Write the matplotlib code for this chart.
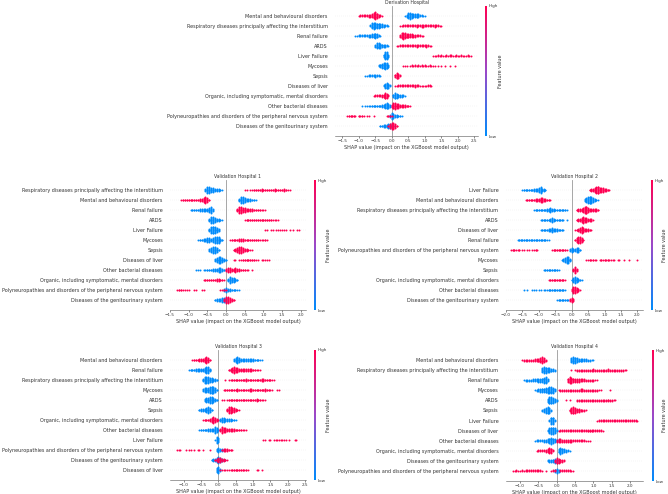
import numpy as np
import matplotlib
matplotlib.use("Agg")
import matplotlib.pyplot as plt
from matplotlib.colors import LinearSegmentedColormap, Normalize
from matplotlib.cm import ScalarMappable

# ─── Data ──────────────────────────────────────────────────────────
# Each row: list of (start SHAP value, counts per 0.05-wide bin)
STEP = 0.05

MENTAL = "Mental and behavioural disorders"
RESP = "Respiratory diseases principally affecting the interstitium"
RENAL = "Renal failure"
ARDS = "ARDS"
LIVERF = "Liver Failure"
MYCO = "Mycoses"
SEPSIS = "Sepsis"
LIVERD = "Diseases of liver"
ORGANIC = "Organic, including symptomatic, mental disorders"
BACT = "Other bacterial diseases"
POLY = "Polyneuropathies and disorders of the peripheral nervous system"
GENITO = "Diseases of the genitourinary system"

# Derivation Hospital
deriv_features = [MENTAL, RESP, RENAL, ARDS, LIVERF, MYCO, SEPSIS, LIVERD,
                  ORGANIC, BACT, POLY, GENITO]
deriv_low = [
    [(0.40, [1, 3, 7, 8, 6, 4, 4, 5, 4, 2, 2, 1, 1])],
    [(-0.65, [2, 7, 8, 7, 6, 6, 5, 4, 3, 2, 2, 1])],
    [(-1.10, [1, 1, 2, 2, 2, 2, 2, 2, 3, 3, 4, 5, 6, 5, 2, 1])],
    [(-0.50, [3, 7, 7, 6, 4, 3, 3, 2, 1])],
    [(-0.25, [4, 9, 9, 3])],
    [(-0.40, [2, 4, 6, 7, 8, 7, 3])],
    [(-0.80, [1, 1, 2, 2, 2, 2, 3, 2, 2, 1])],
    [(-0.25, [2, 5, 7, 6, 2])],
    [(0.05, [4, 7, 5, 4, 3, 3, 2, 1])],
    [(-0.90, [1, 0, 1, 1, 1, 1, 2, 2, 2, 2, 2, 2, 3, 3, 5, 7, 5, 3])],
    [(-0.05, [3, 7, 5, 3, 3, 2, 2, 1])],
    [(-0.35, [2, 2, 3, 3, 4, 5, 5, 4, 2])],
]
deriv_high = [
    [(-1.00, [1, 2, 2, 2, 2, 2, 3, 3, 4, 7, 9, 6, 3, 2, 1])],
    [(0.25, [1, 1, 2, 2, 2, 2, 2, 2, 2, 2, 3, 2, 2, 3, 3, 2, 2, 2, 2, 2, 2, 3, 2, 2, 1, 1])],
    [(0.25, [3, 7, 8, 7, 5, 5, 4, 4, 3, 3, 2, 2, 2, 1, 1])],
    [(0.15, [1, 1, 2, 2, 2, 2, 2, 2, 2, 2, 2, 2, 3, 2, 2, 2, 2, 2, 3, 2, 1, 1])],
    [(1.25, [1, 1, 1, 2, 1, 2, 1, 1, 2, 1, 2, 2, 1, 1, 2, 1, 1, 2, 1, 1, 1, 2, 1, 1])],
    [(0.35, [1, 1, 1, 0, 1, 2, 1, 2, 1, 2, 1, 2, 1, 2, 1, 1, 2, 1, 1, 1, 0, 1, 0, 1, 0, 1, 0, 0, 1, 0, 0, 1])],
    [(0.10, [4, 7, 5, 2])],
    [(0.10, [1, 1, 2, 2, 2, 2, 2, 2, 2, 2, 2, 2, 3, 2, 2, 1, 1, 1, 1, 1, 2, 2, 1])],
    [(-0.55, [1, 2, 2, 2, 2, 3, 4, 7, 5, 2])],
    [(0.00, [3, 7, 8, 6, 5, 4, 3, 3, 3, 2, 2, 1])],
    [(-1.35, [1, 2, 2, 2, 2, 1, 0, 2, 1, 2, 1, 0, 1, 1, 0, 0, 1]), (-0.15, [1, 2, 2, 1])],
    [(-0.10, [2, 5, 8, 7, 5, 2])],
]

# Validation Hospital 1
vh1_features = [RESP, MENTAL, RENAL, ARDS, LIVERF, MYCO, SEPSIS, LIVERD,
                BACT, ORGANIC, POLY, GENITO]
vh1_low = [
    [(-0.55, [3, 8, 7, 6, 5, 4, 3, 3, 2, 1])],
    [(0.35, [4, 8, 7, 5, 4, 3, 3, 2, 2, 1])],
    [(-0.95, [1, 2, 2, 2, 2, 3, 3, 3, 4, 4, 6, 7, 3])],
    [(-0.45, [4, 8, 7, 5, 4, 3, 2, 1])],
    [(-0.45, [4, 7, 9, 8, 6, 3])],
    [(-0.75, [1, 2, 2, 3, 4, 6, 5, 4, 5, 7, 8, 7, 4, 2])],
    [(-0.45, [3, 5, 7, 8, 5, 2])],
    [(-0.30, [3, 6, 8, 8, 6, 4, 2])],
    [(-0.80, [1, 1, 1, 0, 1, 1, 2, 2, 2, 3, 3, 4, 6, 5, 3, 2])],
    [(0.05, [4, 7, 6, 5, 4, 2])],
    [(-0.05, [3, 6, 4, 3, 2, 2, 2, 1, 1])],
    [(-0.30, [2, 3, 3, 4, 5, 6, 5])],
]
vh1_high = [
    [(0.50, [1, 1, 0, 1, 1, 2, 2, 2, 2, 3, 2, 2, 2, 2, 2, 2, 3, 2, 2, 2, 2, 3, 2, 1, 1])],
    [(-1.20, [1, 2, 2, 2, 2, 2, 2, 2, 2, 2, 3, 3, 5, 7, 5, 2])],
    [(0.30, [4, 8, 7, 6, 5, 4, 4, 3, 3, 2, 2, 2, 2, 1, 1, 1])],
    [(0.50, [1, 2, 2, 2, 2, 2, 2, 2, 2, 2, 2, 2, 2, 2, 2, 1, 1, 1, 1])],
    [(1.05, [1, 1, 0, 1, 1, 0, 1, 1, 1, 1, 1, 1, 0, 1, 0, 1, 0, 1, 1])],
    [(0.10, [1, 2, 2, 2, 2, 3, 3, 3, 2, 2, 2, 2, 2, 2, 2, 2, 1, 1, 1, 2, 1])],
    [(0.20, [2, 4, 6, 8, 7, 5, 4, 3, 2, 1, 1])],
    [(0.20, [1, 1, 0, 1, 1, 2, 2, 2, 2, 2, 2, 2, 1, 1, 0, 1, 1, 1, 1, 1])],
    [(0.00, [3, 5, 5, 4, 4, 5, 3, 3, 2, 2, 2, 1, 1, 0, 1])],
    [(-0.60, [1, 2, 2, 2, 2, 2, 2, 3, 3, 2, 2, 1])],
    [(-1.30, [1, 2, 2, 1, 1, 1, 1, 0, 0, 1, 1, 0, 0, 1, 1]), (-0.15, [1, 1, 2, 1])],
    [(-0.05, [3, 7, 7, 5, 4, 2])],
]

# Validation Hospital 2
vh2_features = [LIVERF, MENTAL, RESP, ARDS, LIVERD, RENAL, POLY, MYCO,
                SEPSIS, ORGANIC, BACT, GENITO]
vh2_low = [
    [(-1.50, [1, 2, 2, 2, 2, 2, 2, 3, 3, 4, 5, 7, 4, 3, 2])],
    [(0.40, [3, 5, 7, 9, 7, 5, 3, 2, 1])],
    [(-1.15, [1, 2, 2, 2, 2, 2, 2, 2, 3, 4, 6, 4, 3, 2, 2, 2, 2, 2, 2, 2, 1])],
    [(-0.95, [1, 2, 2, 2, 2, 2, 3, 5, 3, 2, 2, 2, 2, 2, 1, 0, 1])],
    [(-0.95, [1, 2, 2, 2, 2, 3, 4, 6, 4, 3, 3, 2, 2, 2, 1])],
    [(-1.65, [1, 2, 2, 2, 2, 2, 2, 2, 2, 2, 2, 2, 2, 2, 2, 2, 2, 2, 1, 1])],
    [(-0.05, [3, 6, 4, 3, 5, 6, 2])],
    [(-0.30, [1, 3, 5, 7, 8, 4])],
    [(-0.85, [1, 2, 2, 2, 2, 2, 2, 2, 2, 1])],
    [(0.00, [2, 5, 8, 6, 4, 2, 1])],
    [(-1.45, [1, 0, 1, 0, 0, 1, 1, 1, 0, 1, 1, 0, 1, 1, 1, 2, 2, 2, 2, 2, 2, 2, 2, 2, 2, 1])],
    [(-0.45, [1, 2, 2, 2, 2, 2, 2, 1])],
]
vh2_high = [
    [(0.55, [2, 3, 4, 5, 7, 9, 6, 5, 5, 4, 3, 2, 1])],
    [(-1.40, [1, 2, 2, 2, 2, 2, 3, 3, 4, 6, 5, 3, 3, 2, 2, 1])],
    [(0.15, [2, 3, 3, 4, 5, 7, 9, 6, 4, 4, 4, 3, 3, 2])],
    [(0.15, [2, 3, 4, 6, 8, 6, 5, 4, 4, 3, 1])],
    [(0.10, [1, 2, 4, 6, 8, 6, 4, 4, 3, 2, 1])],
    [(0.10, [2, 5, 7, 8, 5, 2])],
    [(-1.85, [1, 2, 2, 1, 1, 2, 0, 1, 1, 0, 1, 1, 0, 1, 1, 2, 1]),
     (-0.60, [1, 2, 2, 2, 2, 2, 2, 2, 2, 1])],
    [(0.45, [1, 1, 2, 1, 2, 1, 1, 0, 1, 2, 1, 2, 1, 2, 1, 1, 1, 1, 0, 1, 1, 0, 0, 1, 0, 0, 1, 0, 0, 0, 0, 1])],
    [(0.05, [4, 8, 3])],
    [(-0.70, [1, 2, 2, 2, 2, 2, 2, 2, 2, 2, 1])],
    [(0.00, [3, 7, 8, 5, 3, 1])],
    [(-0.05, [3, 6, 3])],
]

# Validation Hospital 3
vh3_features = [MENTAL, RENAL, RESP, MYCO, ARDS, SEPSIS, ORGANIC, BACT,
                LIVERF, POLY, GENITO, LIVERD]
vh3_low = [
    [(0.45, [3, 6, 8, 6, 4, 3, 3, 3, 3, 3, 4, 3, 2, 2, 2, 1, 1])],
    [(-0.85, [1, 2, 2, 2, 3, 3, 3, 4, 4, 5, 7, 8, 4])],
    [(-0.45, [4, 7, 8, 7, 6, 5, 4, 3, 2])],
    [(-0.45, [3, 5, 6, 6, 7, 9, 8, 5, 2])],
    [(-0.40, [3, 6, 6, 7, 8, 6, 4, 2])],
    [(-0.55, [2, 3, 3, 4, 6, 8, 5, 2])],
    [(0.05, [4, 6, 5, 3, 3, 3, 3, 2, 2, 1])],
    [(-0.55, [1, 2, 2, 2, 2, 3, 3, 3, 4, 7, 5, 2])],
    [(-0.10, [1, 7, 5])],
    [(-0.05, [3, 6, 4, 3, 2])],
    [(-0.20, [2, 3, 4, 6, 7, 6, 4, 2, 1])],
    [(-0.05, [5, 8, 3])],
]
vh3_high = [
    [(-0.75, [1, 2, 2, 2, 3, 3, 4, 6, 8, 6, 2])],
    [(0.30, [2, 4, 6, 8, 6, 5, 4, 4, 4, 3, 3, 3, 3, 4, 2, 2, 1, 1, 1])],
    [(0.20, [1, 0, 1, 1, 2, 2, 2, 2, 2, 2, 2, 2, 3, 2, 2, 2, 2, 2, 2, 2, 2, 3, 3, 2, 2, 2, 2, 1, 1])],
    [(0.15, [1, 2, 2, 2, 2, 2, 2, 2, 3, 2, 2, 2, 2, 2, 2, 3, 3, 2, 2, 2, 2, 2, 2, 2, 3, 2, 2, 1, 1, 0, 0, 1, 1])],
    [(0.10, [1, 1, 0, 1, 2, 2, 2, 2, 2, 2, 2, 2, 2, 2, 2, 2, 2, 2, 2, 2, 3, 2, 2, 1, 1, 1])],
    [(0.25, [4, 8, 7, 6, 5, 4, 2, 1])],
    [(-0.45, [1, 2, 2, 2, 3, 5, 8, 6, 3, 1])],
    [(0.05, [4, 7, 6, 5, 4, 3, 3, 3, 3, 2, 2, 2, 2, 1, 1, 1])],
    [(1.30, [1, 1, 0, 1, 1, 0, 1, 1, 1, 1, 1, 1, 1, 1, 0, 1, 0, 0, 1, 1])],
    [(-1.20, [1, 1, 1, 0, 0, 1, 0, 1, 1, 0, 1, 0, 1, 1, 0, 1, 0, 0, 0, 1]),
     (0.10, [2, 3, 3, 3, 2, 2, 1])],
    [(-0.10, [2, 4, 6, 6, 4, 3, 2, 1])],
    [(0.05, [1, 1, 1, 1, 1, 1, 1, 2, 2, 2, 2, 2, 2, 2, 1, 2, 1, 0, 0, 0, 0, 1, 1, 0, 1])],
]

# Validation Hospital 4
vh4_features = [MENTAL, RESP, RENAL, MYCO, ARDS, SEPSIS, LIVERF, LIVERD,
                BACT, ORGANIC, GENITO, POLY]
vh4_low = [
    [(0.40, [5, 8, 7, 5, 4, 4, 3, 3, 3, 2, 2, 1, 1])],
    [(-0.40, [5, 8, 7, 6, 5, 4, 3, 2])],
    [(-0.90, [1, 2, 2, 2, 2, 3, 3, 3, 4, 4, 5, 7, 8, 3])],
    [(-0.60, [1, 2, 3, 4, 5, 5, 6, 7, 8, 8, 7, 3])],
    [(-0.25, [4, 8, 8, 6, 4, 2])],
    [(-0.40, [2, 4, 6, 8, 6, 2])],
    [(-0.20, [2, 8, 8, 2])],
    [(-0.25, [2, 6, 8, 8, 6, 2])],
    [(-0.60, [1, 2, 2, 2, 2, 3, 3, 4, 6, 8, 6, 4, 2])],
    [(0.05, [5, 8, 6, 4, 3, 2, 1])],
    [(-0.25, [2, 3, 3, 4, 5, 4])],
    [(-0.05, [4, 6, 3])],
]
vh4_high = [
    [(-0.95, [1, 2, 2, 2, 2, 2, 2, 3, 3, 4, 6, 8, 6, 2])],
    [(0.40, [1, 0, 1, 2, 2, 2, 2, 2, 2, 2, 2, 2, 3, 2, 2, 2, 2, 2, 2, 2, 3, 2, 2, 2, 2, 2, 2, 2, 2, 1, 1])],
    [(0.30, [5, 8, 7, 5, 4, 4, 4, 3, 3, 3, 2, 2, 2, 2, 2, 1, 1])],
    [(0.05, [1, 2, 2, 2, 2, 2, 2, 2, 2, 2, 2, 2, 3, 3, 2, 2, 2, 2, 2, 2, 2, 2, 1, 1, 0, 0, 0, 0, 1])],
    [(0.25, [1, 0, 1, 0, 0, 0, 2, 2, 2, 2, 2, 2, 2, 2, 2, 2, 2, 2, 2, 2, 2, 2, 2, 3, 2, 2, 1, 1])],
    [(0.35, [3, 6, 8, 6, 5, 4, 3, 2, 2, 1])],
    [(1.10, [1, 2, 2, 2, 2, 2, 2, 2, 2, 2, 2, 2, 2, 2, 2, 2, 2, 2, 2, 2, 2, 2, 1])],
    [(0.05, [1, 2, 2, 2, 2, 2, 2, 2, 2, 2, 2, 2, 2, 2, 2, 2, 3, 3, 3, 2, 2, 2, 2, 2, 1])],
    [(0.00, [3, 4, 4, 3, 3, 3, 3, 3, 3, 2, 2, 2, 2, 2, 2, 2, 1, 1, 1])],
    [(-0.55, [1, 2, 2, 2, 2, 3, 4, 7, 6, 2])],
    [(-0.05, [3, 7, 6, 4, 3, 2])],
    [(-1.20, [1, 1, 2, 1, 1, 2, 1, 2, 2, 2, 2, 2, 2, 2, 2, 2, 1, 0, 1]),
     (-0.15, [1, 2, 2]), (0.10, [2, 2, 2, 2, 2, 2, 1, 1])],
]

# ─── Style ─────────────────────────────────────────────────────────
W, H = 668, 494
BLUE = "#008bfb"
RED = "#ff0052"
CMAP = LinearSegmentedColormap.from_list("red_blue", [BLUE, "#9b48c8", RED])
TXT = "#333333"
DY = 0.085     # vertical stacking step (row units)
MS = 2.0       # marker size (pt^2)

fig = plt.figure(figsize=(W / 100, H / 100), dpi=100)


def px(left, top, right, bottom):
    return [left / W, 1 - bottom / H, (right - left) / W, (bottom - top) / H]


def swarm(ax, segs, y, color):
    xs, ys = [], []
    for start, counts in segs:
        for i, n in enumerate(counts):
            if n == 0:
                continue
            xs += [start + i * STEP] * n
            ys += list(y + (np.arange(n) - (n - 1) / 2) * DY)
    ax.scatter(xs, ys, s=MS, c=color, linewidths=0, zorder=3)


def panel(box, features, low, high, xlim, title, cbox, label_x):
    ax = fig.add_axes(px(*box))
    n = len(features)
    for i in range(n):
        y = n - 1 - i
        ax.axhline(y, color="#cccccc", lw=0.3, dashes=(1, 4), zorder=-1)
        swarm(ax, low[i], y, BLUE)
        swarm(ax, high[i], y, RED)
    ax.axvline(0, color="#999999", lw=0.6, zorder=-1)
    ax.set_ylim(-1, n)
    ax.set_xlim(*xlim)
    ax.set_yticks(range(n))
    ax.set_yticklabels(features[::-1], fontsize=3.55, color=TXT)
    ax.tick_params(axis="y", length=0, pad=5.2)
    ax.tick_params(axis="x", labelsize=3.0, length=1.5, width=0.4, pad=1,
                   colors=TXT)
    for s in ["left", "right", "top"]:
        ax.spines[s].set_visible(False)
    ax.spines["bottom"].set_linewidth(0.4)
    ax.spines["bottom"].set_color("#555555")
    ax.set_xlabel("SHAP value (impact on the XGBoost model output)",
                  fontsize=3.5, color=TXT, labelpad=0.8)
    ax.set_title(title, fontsize=3.3, color=TXT, pad=1.5)

    cax = fig.add_axes(px(*cbox))
    cb = fig.colorbar(ScalarMappable(norm=Normalize(0, 1), cmap=CMAP),
                      cax=cax, ticks=[0, 1])
    cb.set_ticklabels(["Low", "High"])
    cb.outline.set_visible(False)
    cax.tick_params(labelsize=3.0, length=0, pad=1, colors=TXT)
    yc = (cbox[1] + cbox[3]) / 2
    fig.text(label_x / W, 1 - yc / H, "Feature value", rotation=90,
             fontsize=3.5, color=TXT, ha="center", va="center")


panel((335, 5.7, 478.3, 136), deriv_features, deriv_low, deriv_high,
      (-1.72, 2.62), "Derivation Hospital", (485, 6, 487, 136), 500)
panel((170, 180, 306, 310), vh1_features, vh1_low, vh1_high,
      (-1.50, 2.14), "Validation Hospital 1", (314, 180, 316, 310), 329)
panel((505.7, 180, 643.3, 310), vh2_features, vh2_low, vh2_high,
      (-2.01, 2.18), "Validation Hospital 2", (651, 180, 653, 310), 665)
panel((170, 350, 306, 480), vh3_features, vh3_low, vh3_high,
      (-1.40, 2.53), "Validation Hospital 3", (314, 350, 316, 480), 329)
panel((505.7, 350, 643.3, 481), vh4_features, vh4_low, vh4_high,
      (-1.39, 2.36), "Validation Hospital 4", (652, 350, 654, 481), 665)

fig.savefig("out.png", dpi=100)
